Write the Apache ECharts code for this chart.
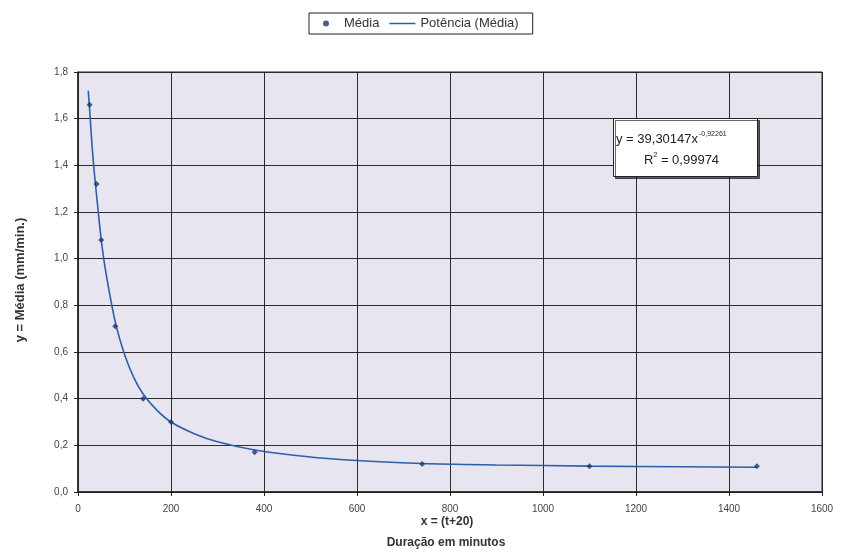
<!DOCTYPE html>
<html>
<head>
<meta charset="utf-8">
<script src="https://cdn.jsdelivr.net/npm/echarts@6/dist/echarts.min.js"></script>
<style>
html,body{margin:0;padding:0;background:#fff;}
#c{width:842px;height:556px;}
</style>
</head>
<body>
<div id="c"></div>
<script>
// Data
const xValues = [25, 40, 50, 80, 140, 200, 380, 740, 1100, 1460];
const mediaValues = [1.66, 1.32, 1.08, 0.71, 0.40, 0.30, 0.17, 0.12, 0.11, 0.11];
// Power trendline
const trendX = [22, 25, 30, 35, 40, 50, 60, 80, 100, 120, 140, 170, 200, 250, 300, 380, 500, 600, 740, 900, 1100, 1300, 1460];
const trendY = [1.72, 1.64, 1.49, 1.37, 1.27, 1.08, 0.94, 0.73, 0.59, 0.49, 0.42, 0.35, 0.30, 0.25, 0.215, 0.18, 0.15, 0.135, 0.122, 0.116, 0.111, 0.108, 0.106];
const seriesNames = ['Média', 'Potência (Média)'];
const equationText = 'y = 39,30147x';
const equationExp = '-0,92261';
const r2Text = '0,99974';

const font = '"Liberation Sans", Arial, sans-serif';
const chart = echarts.init(document.getElementById('c'));
const fmt = v => v.toFixed(1).replace('.', ',');

chart.setOption({
  animation: false,
  backgroundColor: '#ffffff',
  textStyle: { fontFamily: font },
  legend: {
    left: 309, top: 13,
    borderColor: '#222', borderWidth: 1, borderRadius: 0,
    padding: [4, 14, 4, 14],
    itemGap: 10, itemWidth: 26, itemHeight: 6,
    textStyle: { fontFamily: font, fontSize: 13, color: '#333' },
    data: [
      { name: seriesNames[0], icon: 'circle', itemStyle: { color: '#1e3570' } },
      { name: seriesNames[1], icon: 'path://M0,0 L24,0 L24,1.4 L0,1.4 Z', itemStyle: { color: '#2c5fa8' } }
    ]
  },
  grid: {
    left: 78, top: 72, right: 20, bottom: 64,
    show: true, backgroundColor: '#e7e5ef', borderColor: '#222', borderWidth: 1
  },
  xAxis: {
    type: 'value', min: 0, max: 1600, interval: 200,
    axisLine: { show: true, lineStyle: { color: '#222', width: 1.5 } },
    axisTick: { show: true, length: 4, lineStyle: { color: '#222' } },
    axisLabel: { fontSize: 10, color: '#444', fontFamily: font, margin: 12, formatter: v => String(v) },
    splitLine: { show: true, lineStyle: { color: '#2b2b2b', width: 1 } }
  },
  yAxis: {
    type: 'value', min: 0, max: 1.8, interval: 0.2,
    axisLine: { show: true, lineStyle: { color: '#222', width: 1.5 } },
    axisTick: { show: true, length: 4, lineStyle: { color: '#222' } },
    axisLabel: { fontSize: 10, color: '#444', fontFamily: font, formatter: fmt, margin: 10 },
    splitLine: { show: true, lineStyle: { color: '#2b2b2b', width: 1 } }
  },
  series: [
    {
      name: seriesNames[1], type: 'line', smooth: 0.3,
      showSymbol: false, symbol: 'none',
      lineStyle: { color: '#2c5fa8', width: 1.6 },
      itemStyle: { color: '#2c5fa8' },
      data: trendX.map((x, i) => [x, trendY[i]]),
      z: 2
    },
    {
      name: seriesNames[0], type: 'scatter', symbol: 'diamond', symbolSize: 6,
      itemStyle: { color: '#1e3570' },
      data: xValues.map((x, i) => [x, mediaValues[i]]),
      z: 3
    }
  ],
  graphic: [
    {
      type: 'rect', left: 613, top: 118, z: 10,
      shape: { width: 144, height: 58 },
      style: { fill: '#ffffff', stroke: '#222', lineWidth: 1,
        shadowColor: 'rgba(0,0,0,0.6)', shadowOffsetX: 2, shadowOffsetY: 2, shadowBlur: 0 }
    },
    {
      type: 'text', left: 616, top: 131, z: 11,
      style: {
        text: '{a|' + equationText + '}{e|' + equationExp + '}',
        rich: {
          a: { fontFamily: font, fontSize: 13, fill: '#222' },
          e: { fontFamily: font, fontSize: 7, fill: '#222', padding: [0, 0, 10, 1] }
        }
      }
    },
    {
      type: 'text', left: 644, top: 152, z: 11,
      style: {
        text: '{a|R}{s|2}{a| = ' + r2Text + '}',
        rich: {
          a: { fontFamily: font, fontSize: 13, fill: '#222' },
          s: { fontFamily: font, fontSize: 7, fill: '#222', padding: [0, 0, 10, 0] }
        }
      }
    },
    {
      type: 'text', x: 20, y: 280, rotation: Math.PI / 2, z: 11,
      style: {
        text: 'y = Média (mm/min.)', fontFamily: font, fontSize: 13, fontWeight: 'bold',
        fill: '#333', align: 'center', verticalAlign: 'middle'
      }
    },
    {
      type: 'text', x: 447, y: 522, z: 11,
      style: { text: 'x = (t+20)', fontFamily: font, fontSize: 12, fontWeight: 'bold', fill: '#333', align: 'center', verticalAlign: 'middle' }
    },
    {
      type: 'text', x: 446, y: 543, z: 11,
      style: { text: 'Duração em minutos', fontFamily: font, fontSize: 12, fontWeight: 'bold', fill: '#333', align: 'center', verticalAlign: 'middle' }
    }
  ]
});
</script>
</body>
</html>
